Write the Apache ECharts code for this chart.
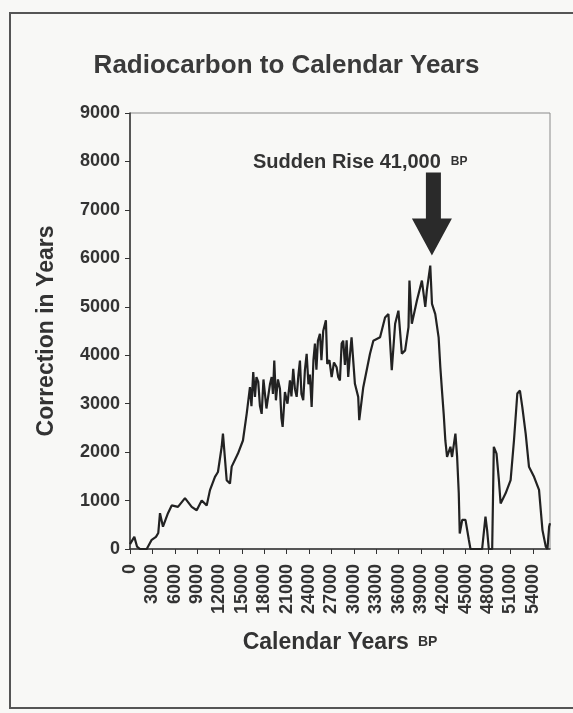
<!DOCTYPE html>
<html>
<head>
<meta charset="utf-8">
<script src="https://cdn.jsdelivr.net/npm/echarts@6/dist/echarts.min.js"></script>
<style>
  html, body { margin: 0; padding: 0; background: #f8f8f6; }
  #chart { width: 573px; height: 713px; }
</style>
</head>
<body>
<div id="chart"></div>
<script>
// calendar years BP (x) and correction in years (y)
var years = [0, 580, 940, 1340, 2240, 2910, 3480, 3790, 4020, 4420, 5090, 5590, 6430, 7370, 8270, 8940, 9610, 10280, 10720, 11390, 11790, 12290, 12460, 12960, 13400, 13630, 14470, 15140,
  15640, 16080, 16280, 16520, 16750, 16950, 17190, 17420, 17650, 17890, 18090, 18290, 18530, 18760, 18990, 19160, 19340, 19560, 19830, 20100, 20300, 20460, 20770, 21110, 21440, 21640, 21880, 22110, 22340, 22580, 22780, 22980, 23220, 23450, 23680, 23920, 24120, 24350, 24590, 24790, 24990, 25190, 25460, 25660, 25900, 26260, 26440, 26730, 27030, 27340, 27700, 27910, 28140, 28370, 28580, 28810, 29040, 29250, 29480, 29700,
  30150, 30590, 30730, 31270, 32170, 32620, 33520, 34190, 34640, 35090, 35540, 35980, 36440, 36880, 37330, 37460, 37780, 38460, 39130, 39580, 39800, 40250, 40480, 40920, 41370, 41600, 41820, 42050, 42270, 42500, 42950, 43170, 43620, 43850, 44070, 44200, 44530, 44970, 45420, 45640,
  47200, 47650, 47870, 48100, 48550, 48770, 49130, 49450, 49680, 50350, 51020, 51470, 51920, 52270, 52590, 53040, 53480, 54160, 54830, 55290, 55730, 55960, 56180, 56300];
var correction = [100, 250, 50, 0, 0, 190, 250, 330, 740, 460, 740, 900, 870, 1050, 870, 800, 1000, 900, 1215, 1490, 1590, 2110, 2380, 1420, 1350, 1700, 1970, 2240,
  2790, 3340, 2950, 3650, 3140, 3550, 3450, 2950, 2790, 3500, 3520, 2900, 2860, 3400, 3550, 3200, 3890, 3070, 3500, 3310, 2700, 2520, 3240, 3000, 3480, 3150, 3720, 3300, 3140, 3600, 3890, 3200, 3070, 3700, 4030, 3400, 3600, 2930, 3900, 4240, 3700, 4300, 4440, 3900, 4500, 4720, 3820, 3900, 3550, 3850, 3750, 3550, 3480, 4240, 4300, 3800, 4310, 3550, 4000, 4370,
  3410, 3140, 2660, 3340, 4030, 4300, 4370, 4780, 4850, 3690, 4650, 4920, 4030, 4100, 4580, 5540, 4650, 5130, 5540, 5000, 5350, 5850, 5060, 4850, 4370, 3750, 3270, 2790, 2240, 1900, 2110, 1900, 2380, 1900, 1150, 320, 600, 600, 190, 0,
  0, 670, 390, 0, 0, 2110, 1970, 1420, 940, 1150, 1420, 2240, 3210, 3270, 2930, 2380, 1700, 1490, 1220, 390, 50, 0, 460, 530];
var arrowAt = [40470, 6060];

var font = 'Liberation Sans, Arial, sans-serif';
var ink = '#333';

var points = years.map(function (y, i) { return [y, correction[i]]; });
var plain = function (v) { return String(v); };

var chart = echarts.init(document.getElementById('chart'));
var option = {
  backgroundColor: '#f8f8f6',
  title: {
    text: 'Radiocarbon to Calendar Years',
    left: 'center',
    top: 48,
    textStyle: { fontFamily: font, fontSize: 26, fontWeight: 'bold', color: '#3a3a3a' }
  },
  graphic: [
    {
      type: 'rect',
      shape: { x: 10, y: 13, width: 566, height: 695 },
      style: { fill: 'none', stroke: '#555', lineWidth: 2 }
    },
    {
      type: 'text',
      left: 253, top: 152,
      style: {
        text: '{a|Sudden Rise 41,000}{s| }{b|BP}',
        rich: {
          a: { fontFamily: font, fontSize: 20, fontWeight: 'bold', fill: ink },
          s: { width: 10 },
          b: { fontFamily: font, fontSize: 12, fontWeight: 'bold', fill: ink }
        }
      }
    }
  ],
  grid: {
    left: 130, right: 23, top: 113, bottom: 164,
    show: true, borderColor: '#8a8a8a', borderWidth: 1
  },
  xAxis: {
    type: 'value',
    min: 0, max: 56300, interval: 3000,
    name: '{a|Calendar Years}{s| }{b|BP}',
    nameLocation: 'middle',
    nameGap: 82,
    nameTextStyle: {
      rich: {
        a: { fontFamily: font, fontSize: 23, fontWeight: 'bold', color: ink },
        s: { width: 9 },
        b: { fontFamily: font, fontSize: 14, fontWeight: 'bold', color: ink }
      }
    },
    splitLine: { show: false },
    axisLine: { lineStyle: { color: ink, width: 1.5 } },
    axisTick: { length: 5, lineStyle: { color: ink } },
    axisLabel: {
      rotate: 90, margin: 15, showMaxLabel: false, formatter: plain,
      fontFamily: font, fontSize: 18, fontWeight: 'bold', color: ink
    }
  },
  yAxis: {
    type: 'value',
    min: 0, max: 9000, interval: 1000,
    name: 'Correction in Years',
    nameLocation: 'middle',
    nameGap: 72,
    nameTextStyle: { fontFamily: font, fontSize: 23, fontWeight: 'bold', color: ink },
    splitLine: { show: false },
    axisLine: { show: true, lineStyle: { color: ink, width: 1.5 } },
    axisTick: { show: true, length: 5, lineStyle: { color: ink } },
    axisLabel: { margin: 10, formatter: plain, fontFamily: font, fontSize: 18, fontWeight: 'bold', color: ink }
  },
  series: [{
    type: 'line',
    data: points,
    showSymbol: false,
    lineStyle: { color: '#222', width: 2.2 },
    animation: false,
    markPoint: {
      silent: true,
      symbol: 'path://M14,0 L29,0 L29,46 L40,46 L20,83 L0,46 L14,46 Z',
      symbolSize: [40, 83],
      symbolOffset: [0, '-50%'],
      itemStyle: { color: '#2a2a2a' },
      label: { show: false },
      data: [{ coord: arrowAt }]
    }
  }]
};
chart.setOption(option);
window.addEventListener('resize', function () { chart.resize(); });
</script>
</body>
</html>
